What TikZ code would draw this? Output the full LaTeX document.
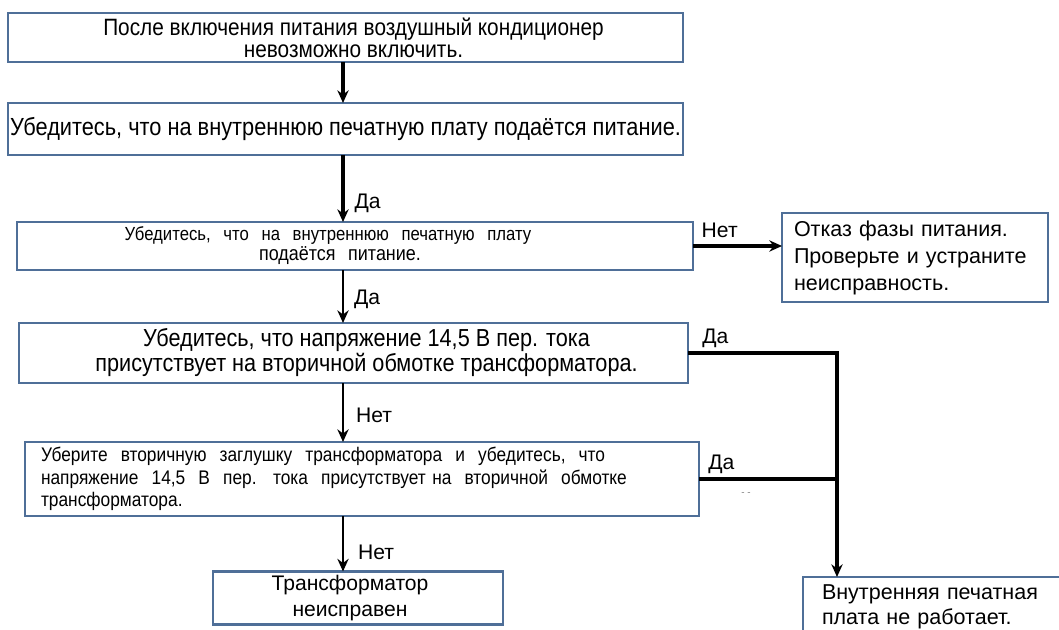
\documentclass[tikz,border=0pt]{standalone}
\usepackage{fontspec}
\setmainfont{Liberation Sans}
\newfontfamily\narrowfont[FakeStretch=0.88]{Liberation Sans}
\usetikzlibrary{positioning,arrows.meta,calc}
\definecolor{boxblue}{HTML}{4F6F98}
\newlength\px
\setlength\px{0.025cm}
\newcommand{\widegaps}{\spaceskip=9pt plus 1pt\relax}
\tikzstyle{box}=[draw=boxblue, line width=1.8pt, fill=white, inner sep=0pt, outer sep=0pt]
\tikzstyle{flow}=[-{Stealth[length=9pt,width=8pt]}, line width=1.6pt]
\tikzstyle{bus}=[line width=2.8pt]
\tikzstyle{tag}=[inner sep=0pt, font=\fontsize{15}{17}\selectfont]
\tikzset{>=Stealth}
\newcommand{\drawbox}{\node[box]}
\newcommand{\drawtag}{\node[tag]}

\begin{document}
\begin{tikzpicture}[x=0.025cm,y=-0.025cm]
	\useasboundingbox (0,0) rectangle (1059,630);
	\clip (0,0) rectangle (1059,630);
	
	\coordinate (spine) at (343,0);
	
	\drawbox (start) at (345.5,37.5) [minimum width=675\px, minimum height=49\px, align=center,
		font=\narrowfont\fontsize{16.8}{15.6}\selectfont]
		{\hspace*{16\px}После включения питания воздушный кондиционер\\\hspace*{16\px}невозможно включить.};
	\drawbox (supply) at (345.5,129) [minimum width=675\px, minimum height=52\px,
		font=\narrowfont\fontsize{17.6}{19}\selectfont]
		{Убедитесь, что на внутреннюю печатную плату подаётся питание.};
	\drawbox (phase) at (355,246) [minimum width=676\px, minimum height=48\px, align=center,
		font=\narrowfont\fontsize{13.5}{14.2}\selectfont]
		{\widegaps\hspace*{-54\px}Убедитесь, что на внутреннюю печатную плату\\
		 \hspace*{-30\px}{\fontsize{14.5}{14.2}\selectfont\widegaps подаётся питание.}};
	\drawbox (fault) at (915,257.5) [minimum width=266\px, minimum height=89\px, align=left,
		text width=242\px, font=\fontsize{15.3}{19.2}\selectfont]
		{Отказ фазы питания.\\Проверьте и устраните\\неисправность.};
	\drawbox (volt) at (353.5,353) [minimum width=669\px, minimum height=60\px, align=center,
		font=\narrowfont\fontsize{17.5}{17.8}\selectfont]
		{\hspace*{26\px}Убедитесь, что напряжение 14,5 В пер. тока\\\hspace*{26\px}присутствует на вторичной обмотке трансформатора.};
	\drawbox (plug) at (362,479) [minimum width=674\px, minimum height=74\px, align=left,
		text width=642\px, font=\narrowfont\fontsize{14}{16}\selectfont]
		{Уберите \ вторичную \ заглушку \ трансформатора \ и \ убедитесь, \ что\\
		 напряжение \ 14,5 \ В \ пер. \ тока \ присутствует на \ вторичной \ обмотке\\
		 трансформатора.};
	\drawbox (trafo) at (358,598) [minimum width=290\px, minimum height=53\px, align=center,
		font=\fontsize{15}{19}\selectfont]
		{\hspace*{-16\px}Трансформатор\\\hspace*{-16\px}неисправен};
	\drawbox (board) at (941.5,607) [minimum width=277\px, minimum height=60\px, align=left,
		text width=239\px, font=\fontsize{15.3}{17.8}\selectfont]
		{Внутренняя печатная\\плата не работает.};
	
	\coordinate (drop) at (837,577);
	
	% main line down
	\draw[flow, line width=2.2pt] (start.south -| spine) -- (supply.north -| spine);
	\draw[flow, line width=2.2pt] (supply.south -| spine) -- (phase.north -| spine)
		node [tag, pos=0.72, right=10\px] {Да};
	\draw[flow] (phase.south -| spine) -- (volt.north -| spine)
		node [tag, pos=0.55, right=10\px] {Да};
	\draw[flow] (volt.south -| spine) -- (plug.north -| spine)
		node [tag, pos=0.55, right=12\px] {Нет};
	\draw[flow] (plug.south -| spine) -- (trafo.north -| spine)
		node [tag, pos=0.65, right=14\px] {Нет};
	
	% branches to the right
	\draw[flow, line width=3pt] (phase.east) -- (phase.east -| fault.west)
		node [tag, pos=0.3, above=6\px] {Нет};
	\draw[bus] (volt.east) -| (plug.east -| drop);
	\draw[flow, line width=2.2pt] (plug.east -| drop) -- (drop);
	\draw[bus] (plug.east) -- (plug.east -| drop);
	\drawtag[above right=5\px and 14\px] at (volt.east) {Да};
	\drawtag[above right=5\px and 9\px] at (plug.east) {Да};
	\drawtag[font=\fontsize{7}{8}\selectfont, text=gray] at (746,494) {- -};
	
\end{tikzpicture}
\end{document}
